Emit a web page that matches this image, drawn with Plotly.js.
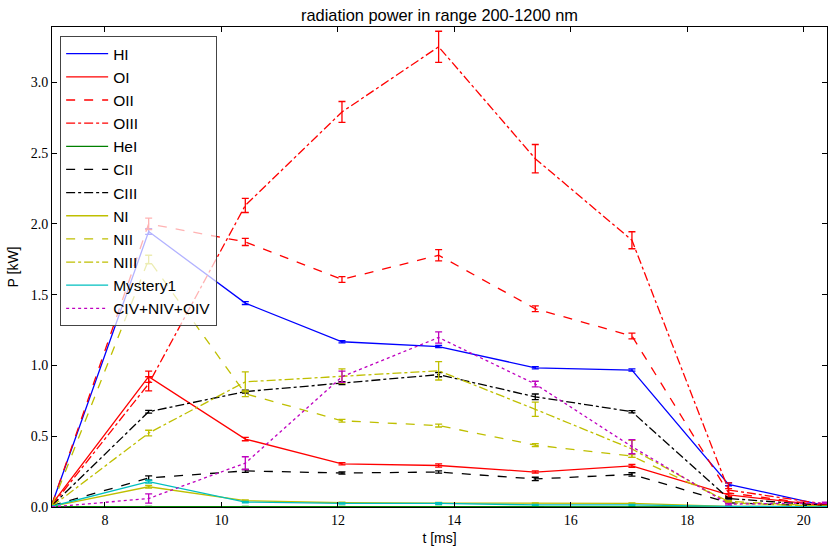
<!DOCTYPE html>
<html>
<head>
<meta charset="utf-8">
<script src="https://cdn.plot.ly/plotly-3.0.1.min.js"></script>
<style>
html,body{margin:0;padding:0;background:#fff;}
#chart{width:837px;height:552px;}
</style>
</head>
<body>
<div id="chart"></div>
<script>
// time axis [ms]
const t = [7.09, 8.75, 10.41, 12.07, 13.73, 15.39, 17.05, 18.71, 20.37];

// radiated power [kW] and uncertainties
const HI       = [0.02, 1.945, 1.44, 1.167, 1.133, 0.983, 0.967, 0.16, 0.01];
const HI_err   = [0.004, 0.02, 0.01, 0.008, 0.008, 0.008, 0.008, 0.01, 0.003];
const OI       = [0.02, 0.92, 0.48, 0.305, 0.293, 0.247, 0.29, 0.085, 0.01];
const OI_err   = [0.005, 0.04, 0.012, 0.008, 0.012, 0.008, 0.01, 0.01, 0.002];
const OII      = [0.02, 2.0, 1.872, 1.607, 1.778, 1.4, 1.208, 0.1, 0.01];
const OII_err  = [0.005, 0.04, 0.025, 0.02, 0.04, 0.02, 0.02, 0.03, 0.002];
const OIII     = [0.01, 0.87, 2.13, 2.79, 3.25, 2.46, 1.884, 0.12, 0.02];
const OIII_err = [0.003, 0.05, 0.05, 0.074, 0.11, 0.1, 0.06, 0.05, 0.005];
const HeI      = [0.002, 0.004, 0.003, 0.003, 0.003, 0.002, 0.002, 0.001, 0.0];
const HeI_err  = [0.001, 0.001, 0.001, 0.001, 0.001, 0.001, 0.001, 0.001, 0.001];
const CII      = [0.01, 0.205, 0.255, 0.24, 0.247, 0.198, 0.23, 0.03, 0.005];
const CII_err  = [0.003, 0.015, 0.01, 0.008, 0.008, 0.012, 0.012, 0.005, 0.002];
const CIII     = [0.01, 0.673, 0.815, 0.875, 0.935, 0.778, 0.673, 0.06, 0.01];
const CIII_err = [0.003, 0.01, 0.01, 0.01, 0.015, 0.02, 0.008, 0.005, 0.002];
const NI       = [0.005, 0.143, 0.045, 0.03, 0.028, 0.025, 0.025, 0.005, 0.002];
const NI_err   = [0.002, 0.01, 0.005, 0.004, 0.004, 0.004, 0.004, 0.002, 0.001];
const NII      = [0.01, 1.748, 0.8, 0.609, 0.575, 0.437, 0.36, 0.04, 0.005];
const NII_err  = [0.003, 0.03, 0.02, 0.01, 0.01, 0.01, 0.01, 0.005, 0.002];
const NIII     = [0.005, 0.522, 0.884, 0.925, 0.962, 0.69, 0.41, 0.03, 0.003];
const NIII_err = [0.002, 0.02, 0.07, 0.05, 0.065, 0.05, 0.06, 0.005, 0.002];
const MYS      = [0.005, 0.179, 0.035, 0.025, 0.025, 0.015, 0.015, 0.005, 0.001];
const MYS_err  = [0.002, 0.01, 0.005, 0.004, 0.006, 0.004, 0.004, 0.002, 0.001];
const CIV      = [0.0, 0.06, 0.31, 0.92, 1.197, 0.868, 0.426, 0.02, 0.03];
const CIV_err  = [0.001, 0.033, 0.045, 0.04, 0.04, 0.02, 0.05, 0.005, 0.005];

const names  = ['HI','OI','OII','OIII','HeI','CII','CIII','NI','NII','NIII','Mystery1','CIV+NIV+OIV'];
const vals   = [HI, OI, OII, OIII, HeI, CII, CIII, NI, NII, NIII, MYS, CIV];
const errs   = [HI_err, OI_err, OII_err, OIII_err, HeI_err, CII_err, CIII_err, NI_err, NII_err, NIII_err, MYS_err, CIV_err];
const colors = ['#0000ff','#ff0000','#ff0000','#ff0000','#008000','#000000','#000000','#bfbf00','#bfbf00','#bfbf00','#00bfbf','#bf00bf'];
const dashes = ['solid','solid','dash','dashdot','solid','dash','dashdot','solid','dash','dashdot','solid','dot'];

const traces = names.map((n, i) => ({
  x: t, y: vals[i], name: n, type: 'scatter', mode: 'lines', legendgroup: 'g' + i,
  line: {color: colors[i], width: 1.3, dash: dashes[i]},
  error_y: {type: 'data', array: errs[i], visible: true, color: colors[i], thickness: 1.3, width: 3.5}
}));

const tickFont = {family: 'Liberation Serif, serif', size: 14, color: '#000'};
const layout = {
  width: 837, height: 552,
  margin: {l: 52, r: 10, t: 27, b: 45},
  paper_bgcolor: '#fff', plot_bgcolor: '#fff',
  font: {family: 'Liberation Sans, Arial, sans-serif', color: '#000'},
  title: {text: 'radiation power in range 200-1200 nm', font: {size: 16.4, family: 'Liberation Sans, Arial, sans-serif'},
          x: 0.5, xref: 'paper', y: 1 - 15/552, yref: 'container', yanchor: 'middle'},
  xaxis: {range: [7.09, 20.40], tickvals: [8,10,12,14,16,18,20], ticktext: ['8','10','12','14','16','18','20'],
          ticks: 'inside', ticklen: 5, tickcolor: '#000', showline: true, linecolor: '#000', linewidth: 1,
          mirror: 'ticks', showgrid: false, zeroline: false, tickfont: tickFont,
          title: {text: 't [ms]', font: {size: 14}, standoff: 6}},
  yaxis: {range: [0, 3.39], tickvals: [0,0.5,1,1.5,2,2.5,3], ticktext: ['0.0','0.5','1.0','1.5','2.0','2.5','3.0'],
          ticks: 'inside', ticklen: 5, tickcolor: '#000', showline: true, linecolor: '#000', linewidth: 1,
          mirror: 'ticks', showgrid: false, zeroline: false, tickfont: tickFont,
          title: {text: 'P [kW]', font: {size: 14}, standoff: 8}},
  showlegend: true,
  legend: {x: 0.0105, y: 0.981, xanchor: 'left', yanchor: 'top', bgcolor: 'rgba(255,255,255,0.7)',
           bordercolor: '#444', borderwidth: 1, font: {size: 15.5, family: 'Liberation Sans, Arial, sans-serif'},
           tracegroupgap: 4, itemwidth: 42, traceorder: 'normal'}
};

Plotly.newPlot('chart', traces, layout, {displayModeBar: false, staticPlot: true});
</script>
</body>
</html>
